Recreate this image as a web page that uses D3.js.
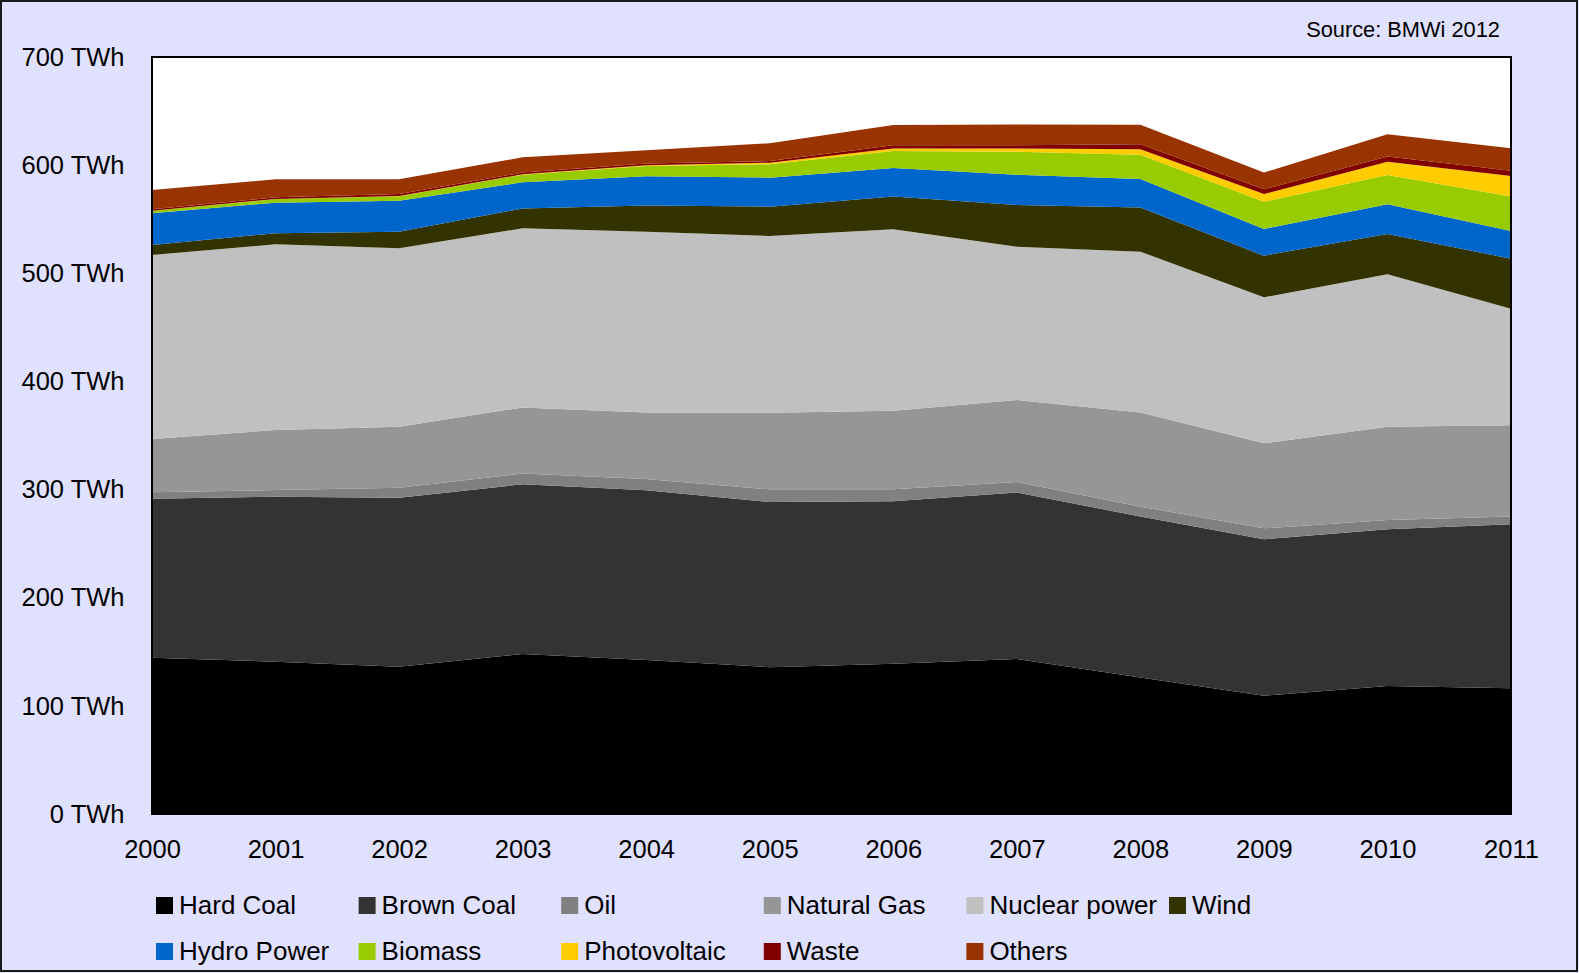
<!DOCTYPE html>
<html>
<head>
<meta charset="utf-8">
<script src="https://cdn.jsdelivr.net/npm/d3@7"></script>
<style>
  html, body { margin: 0; padding: 0; background: #E0E0FF; }
  svg { display: block; }
  text { font-family: "Liberation Sans", Arial, sans-serif; fill: #000; }
</style>
</head>
<body>
<svg id="chart" width="1579" height="973"></svg>
<script>
const years = [2000, 2001, 2002, 2003, 2004, 2005, 2006, 2007, 2008, 2009, 2010, 2011];
const seriesNames = ["Hard Coal", "Brown Coal", "Oil", "Natural Gas", "Nuclear power", "Wind",
                     "Hydro Power", "Biomass", "Photovoltaic", "Waste", "Others"];
const seriesColors = ["#000000", "#333333", "#808080", "#969696", "#C0C0C0", "#333300",
                      "#0066CC", "#99CC00", "#FFCC00", "#800000", "#993300"];

const hardCoal     = [144.6, 140.9, 136.2, 148.0, 142.5, 135.8, 138.9, 143.3, 126.3, 109.4, 118.4, 116.2];
const brownCoal    = [147.0, 152.5, 156.3, 156.9, 156.8, 152.7, 150.3, 154.0, 148.8, 144.6, 144.8, 151.7];
const oil          = [  5.9,   6.1,   9.1,  10.0,  10.4,  11.7,  11.0,   9.7,   9.1,  10.2,   8.7,   7.1];
const naturalGas   = [ 49.3,  55.6,  56.6,  61.1,  61.6,  70.9,  72.8,  75.8,  87.0,  78.6,  86.3,  84.4];
const nuclear      = [170.1, 171.7, 164.9, 165.6, 167.0, 163.4, 167.7, 141.8, 148.8, 135.0, 140.8, 107.9];
const wind         = [  9.3,  10.2,  15.4,  18.4,  24.4,  27.1,  30.2,  38.6,  40.9,  38.5,  37.3,  46.2];
const hydro        = [ 29.3,  28.3,  28.6,  24.1,  27.1,  26.8,  26.5,  28.0,  26.3,  24.7,  27.5,  25.6];
const biomass      = [  2.3,   3.3,   4.2,   7.1,   9.4,  12.4,  15.7,  21.3,  22.5,  25.2,  27.1,  31.8];
const photovoltaic = [  0.1,   0.1,   0.2,   0.3,   0.6,   1.5,   2.2,   2.8,   4.9,   7.1,  12.3,  19.1];
const waste        = [  1.3,   1.5,   1.8,   1.6,   1.8,   1.5,   3.0,   3.0,   4.7,   4.3,   4.7,   4.9];
const others       = [ 17.8,  16.7,  13.6,  14.1,  12.2,  16.5,  18.8,  19.2,  18.1,  15.5,  20.6,  20.7];

const yTicks = [0, 100, 200, 300, 400, 500, 600, 700];
const sourceText = "Source: BMWi 2012";

const seriesValues = [hardCoal, brownCoal, oil, naturalGas, nuclear, wind, hydro, biomass, photovoltaic, waste, others];

const table = years.map((yr, i) => {
  const row = { year: yr };
  seriesNames.forEach((n, k) => { row[n] = seriesValues[k][i]; });
  return row;
});

const svg = d3.select("#chart");
const W = 1579, H = 973;
const plot = { left: 152, right: 1511, top: 57, bottom: 814 };

// background + outer border
svg.append("rect").attr("x", 0).attr("y", 0).attr("width", W).attr("height", H).attr("fill", "#E0E0FF");
svg.append("rect").attr("x", 1).attr("y", 1).attr("width", W - 3).attr("height", H - 3)
   .attr("fill", "none").attr("stroke", "#1a1a1a").attr("stroke-width", 2);

const x = d3.scaleLinear().domain([years[0], years[years.length - 1]]).range([plot.left, plot.right]);
const y = d3.scaleLinear().domain([0, 700]).range([plot.bottom, plot.top]);

// plot background
svg.append("rect").attr("x", plot.left).attr("y", plot.top)
   .attr("width", plot.right - plot.left).attr("height", plot.bottom - plot.top).attr("fill", "#FFFFFF");

const stack = d3.stack().keys(seriesNames);
const layers = stack(table);

const area = d3.area()
  .x(d => x(d.data.year))
  .y0(d => y(d[0]))
  .y1(d => y(d[1]));

svg.append("g").selectAll("path").data(layers).join("path")
  .attr("d", area)
  .attr("fill", (d, i) => seriesColors[i])
  .attr("stroke", "none");

// plot border
svg.append("rect").attr("x", plot.left).attr("y", plot.top)
   .attr("width", plot.right - plot.left).attr("height", plot.bottom - plot.top)
   .attr("fill", "none").attr("stroke", "#000").attr("stroke-width", 2);

// y axis
const yAxis = d3.axisLeft(y).tickValues(yTicks).tickSize(0).tickPadding(27.5)
  .tickFormat(d => d + " TWh");
const gy = svg.append("g").attr("transform", `translate(${plot.left},0)`).call(yAxis);
gy.select(".domain").remove();
gy.selectAll("text").attr("font-size", 25.5).attr("font-family", "Liberation Sans, Arial, sans-serif").attr("fill", "#000");

// x axis
const xAxis = d3.axisBottom(x).tickValues(years).tickSize(0).tickPadding(26)
  .tickFormat(d => String(d));
const gx = svg.append("g").attr("transform", `translate(0,${plot.bottom})`).call(xAxis);
gx.select(".domain").remove();
gx.selectAll("text").attr("font-size", 25.5).attr("font-family", "Liberation Sans, Arial, sans-serif").attr("fill", "#000");

// source
svg.append("text").attr("x", 1500).attr("y", 37).attr("text-anchor", "end")
   .attr("font-size", 21.8).text(sourceText);

// legend
const legendX0 = 156, legendDX = 202.6, legendRowBase = [914, 960], swatch = 17;
const legend = svg.append("g");
seriesNames.forEach((name, i) => {
  const row = i < 6 ? 0 : 1;
  const col = i < 6 ? i : i - 6;
  const lx = legendX0 + col * legendDX;
  const by = legendRowBase[row];
  legend.append("rect").attr("x", lx).attr("y", by - swatch).attr("width", swatch).attr("height", swatch)
    .attr("fill", seriesColors[i]);
  legend.append("text").attr("x", lx + 23).attr("y", by).attr("font-size", 26).text(name);
});
</script>
</body>
</html>
